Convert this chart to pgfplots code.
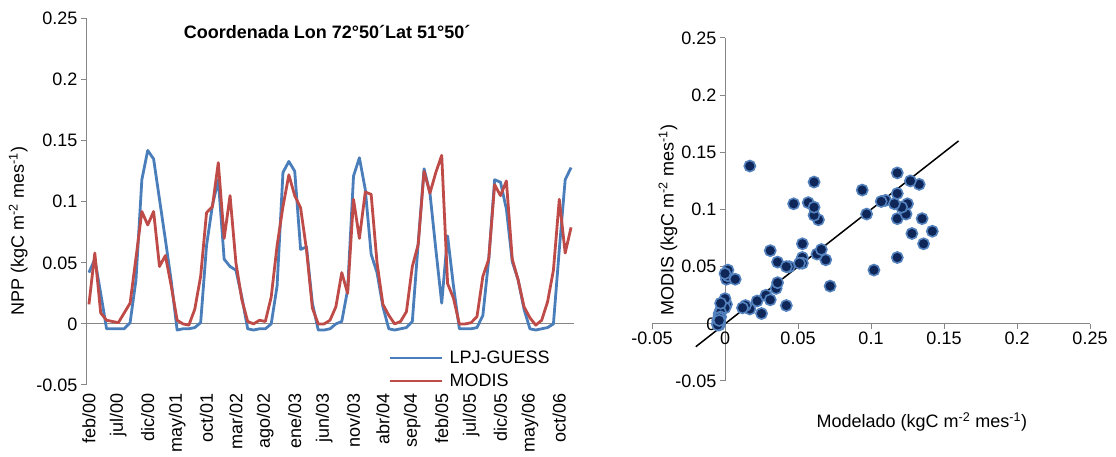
\documentclass[border=0pt]{standalone}
\usepackage{fontspec}
\setmainfont{Liberation Sans}
\usepackage{pgfplots}
\pgfplotsset{compat=1.18}
\usepackage{pgfplotstable}
\definecolor{lpjblue}{RGB}{74,126,187}
\definecolor{modisred}{RGB}{190,75,72}
\definecolor{axgray}{RGB}{134,134,134}
\definecolor{dotfill}{RGB}{14,38,88}
\definecolor{dotedge}{RGB}{84,130,190}

% monthly NPP, feb/00 (i=0) to dic/06 (i=82)
\pgfplotstableread{
i lpj modis
0 0.042 0.016
1 0.053 0.058
2 0.025 0.009
3 -0.004 0.003
4 -0.004 0.002
5 -0.004 0.001
6 -0.004 0.009
7 0.001 0.017
8 0.036 0.054
9 0.118 0.092
10 0.142 0.081
11 0.135 0.092
12 0.102 0.047
13 0.069 0.056
14 0.035 0.031
15 -0.005 0.003
16 -0.004 0.000
17 -0.004 -0.001
18 -0.003 0.012
19 0.001 0.039
20 0.064 0.091
21 0.097 0.096
22 0.118 0.132
23 0.053 0.070
24 0.047 0.105
25 0.044 0.050
26 0.022 0.020
27 -0.004 0.002
28 -0.005 0.000
29 -0.004 0.003
30 -0.004 0.002
31 0.000 0.022
32 0.031 0.064
33 0.124 0.096
34 0.133 0.122
35 0.125 0.105
36 0.061 0.095
37 0.063 0.061
38 0.017 0.013
39 -0.005 0.000
40 -0.005 0.000
41 -0.004 0.003
42 0.000 0.014
43 0.002 0.042
44 0.028 0.025
45 0.121 0.102
46 0.136 0.070
47 0.110 0.108
48 0.057 0.106
49 0.042 0.050
50 0.014 0.016
51 -0.004 0.007
52 -0.005 0.000
53 -0.004 0.002
54 -0.003 0.010
55 0.002 0.047
56 0.066 0.065
57 0.127 0.125
58 0.107 0.107
59 0.061 0.124
60 0.017 0.138
61 0.072 0.033
62 0.031 0.021
63 -0.004 0.000
64 -0.004 0.000
65 -0.004 0.001
66 -0.003 0.006
67 0.007 0.039
68 0.053 0.053
69 0.118 0.114
70 0.116 0.105
71 0.094 0.117
72 0.051 0.053
73 0.036 0.036
74 0.012 0.014
75 -0.004 0.005
76 -0.005 -0.001
77 -0.004 0.003
78 -0.003 0.018
79 0.000 0.044
80 0.061 0.102
81 0.118 0.058
82 0.128 0.079
}\npp

\begin{document}
\begin{tikzpicture}[font=\fontsize{18}{21}\selectfont]
\useasboundingbox (0,0) rectangle (1116pt,457pt);

% left: time series
\begin{axis}[
  at={(86pt,72pt)}, anchor=south west,
  scale only axis, width=488pt, height=366.5pt,
  xmin=-0.5, xmax=82.5, ymin=-0.05, ymax=0.25,
  axis x line*=bottom, axis y line*=left,
  x axis line style={draw=none},
  y axis line style={-, draw=axgray, line width=1pt},
  xtick={0,5,...,80},
  xticklabels={feb/00,jul/00,dic/00,may/01,oct/01,mar/02,ago/02,ene/03,jun/03,nov/03,abr/04,sep/04,feb/05,jul/05,dic/05,may/06,oct/06},
  xticklabel style={rotate=90, anchor=east},
  xtick style={draw=none},
  ytick={-0.05,0,0.05,0.1,0.15,0.2,0.25},
  yticklabels={-0.05,0,0.05,0.1,0.15,0.2,0.25},
  ytick style={axgray, line width=1pt},
  tick align=outside, major tick length=5pt,
  ylabel={NPP (kgC m\textsuperscript{-2} mes\textsuperscript{-1})},
  every axis y label/.style={at={(rel axis cs:-0.139,0.42)}, rotate=90, anchor=center},
  title={Coordenada Lon 72°50´Lat 51°50´},
  title style={at={(rel axis cs:0.494,0.947)}, anchor=center, font=\bfseries\fontsize{18}{21}\selectfont},
  legend style={draw=none, fill=none, at={(0.62,0.099)}, anchor=north west,
    inner sep=0pt, row sep=5pt, nodes={inner sep=2pt}},
  legend cell align=left,
  legend image code/.code={\draw[#1] (0pt,0pt) -- (52pt,0pt); \path (56pt,0pt);},
]
\addplot[axgray, line width=1pt, forget plot] coordinates {(-0.5,0) (82.5,0)};
\addplot[lpjblue, line width=2.8pt, line join=round] table[x=i, y=lpj]{\npp};
\addplot[modisred, line width=2.8pt, line join=round] table[x=i, y=modis]{\npp};
\legend{LPJ-GUESS, MODIS}
\end{axis}

% right: scatter
\begin{axis}[
  at={(652pt,76pt)}, anchor=south west,
  scale only axis, width=438pt, height=343pt,
  xmin=-0.05, xmax=0.25, ymin=-0.05, ymax=0.25,
  axis lines=middle,
  axis line style={-, draw=axgray, line width=1pt},
  xtick={-0.05,0,0.05,0.1,0.15,0.2,0.25},
  xticklabels={-0.05,0,0.05,0.1,0.15,0.2,0.25},
  ytick={-0.05,0,0.05,0.1,0.15,0.2,0.25},
  yticklabels={-0.05,0,0.05,0.1,0.15,0.2,0.25},
  hide obscured x ticks=false, hide obscured y ticks=false,
  tick align=outside, major tick length=5pt,
  tick style={axgray, line width=1pt},
  xlabel={Modelado (kgC m\textsuperscript{-2} mes\textsuperscript{-1})},
  ylabel={MODIS (kgC m\textsuperscript{-2} mes\textsuperscript{-1})},
  every axis x label/.style={at={(rel axis cs:0.616,-0.12)}, anchor=center},
  every axis y label/.style={at={(rel axis cs:0.0365,0.469)}, rotate=90, anchor=center},
]
\addplot[only marks, mark=*, mark size=5.6pt,
  mark options={fill=dotfill, draw=dotedge, line width=1.6pt}]
  table[x=lpj, y=modis]{\npp};
\addplot[black, line width=1.5pt] coordinates {(-0.02,-0.02) (0.16,0.16)};
\end{axis}
\end{tikzpicture}
\end{document}
